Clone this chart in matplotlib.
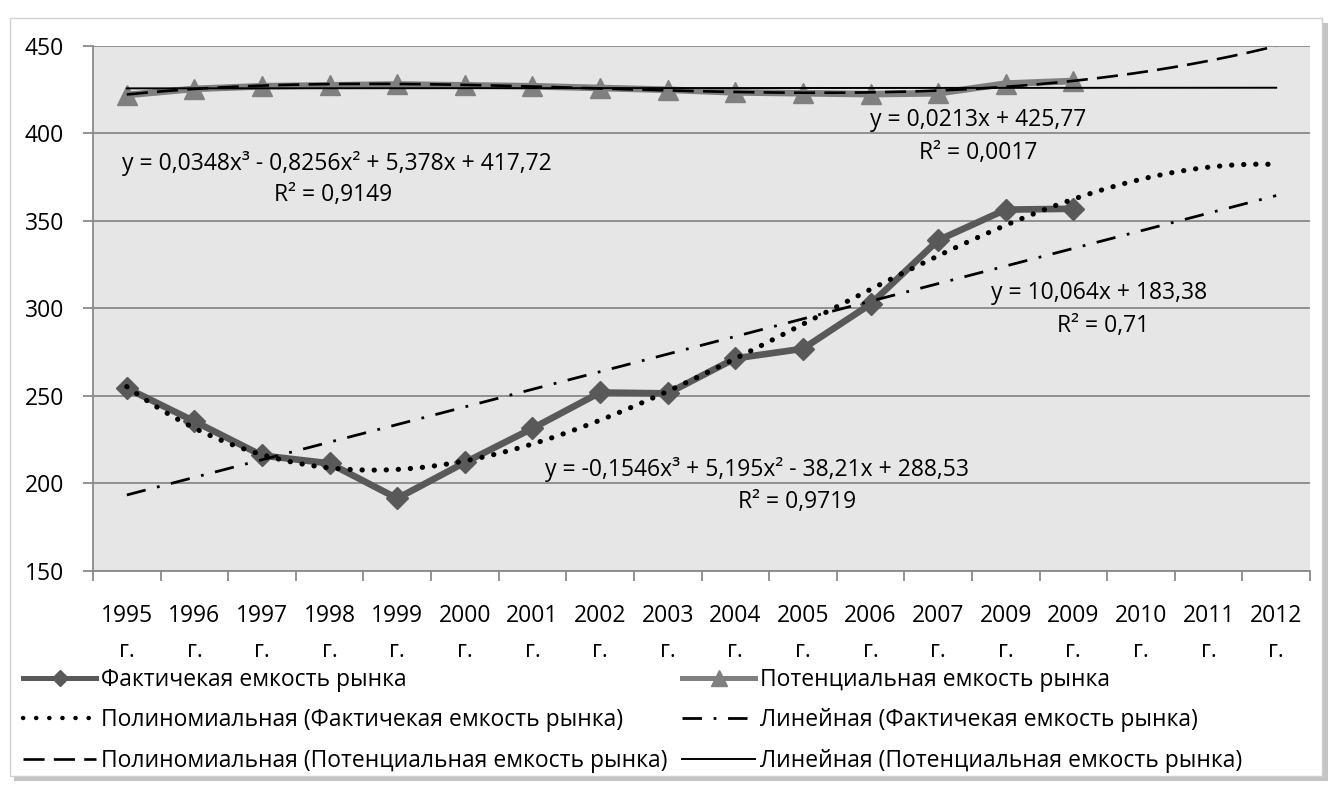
import numpy as np
import matplotlib
matplotlib.use("Agg")
import matplotlib.pyplot as plt
from matplotlib.lines import Line2D
from matplotlib.patches import Rectangle

plt.rcParams['font.family'] = ['Open Sans', 'DejaVu Sans']

# ---------------- data ----------------
years = ["1995", "1996", "1997", "1998", "1999", "2000", "2001", "2002", "2003",
         "2004", "2005", "2006", "2007", "2009", "2009", "2010", "2011", "2012"]
actual = [254.5, 235.5, 216, 211.5, 191.5, 212, 231.5, 252, 251.5,
          271.5, 277, 302.5, 339, 356.5, 357]
potential = [422, 425.5, 427, 427.5, 428, 427.5, 427, 426, 425,
             423.5, 423, 422.5, 423, 428.5, 430]
# trendline coefficients (as printed on chart), x = 1..18
poly_actual_coef = [-0.1546, 5.195, -38.21, 288.53]
lin_actual_coef = [10.064, 183.38]
poly_pot_coef = [0.0348, -0.8256, 5.378, 417.72]
lin_pot_coef = [0.0213, 425.77]

eq_poly_pot = ["y = 0,0348x³ - 0,8256x² + 5,378x + 417,72", "R² = 0,9149"]
eq_lin_pot = ["y = 0,0213x + 425,77", "R² = 0,0017"]
eq_lin_act = ["y = 10,064x + 183,38", "R² = 0,71"]
eq_poly_act = ["y = -0,1546x³ + 5,195x² - 38,21x + 288,53", "R² = 0,9719"]

legend_labels = ["Фактичекая емкость рынка",
                 "Потенциальная емкость рынка",
                 "Полиномиальная (Фактичекая емкость рынка)",
                 "Линейная (Фактичекая емкость рынка)",
                 "Полиномиальная (Потенциальная емкость рынка)",
                 "Линейная (Потенциальная емкость рынка)"]

# ---------------- styles ----------------
C_ACT = "#595959"
C_POT = "#808080"
DOT = (0, (0.05, 2.3))
DASHDOT = (0, (7, 4.2, 1.0, 4.2))
DASH = (0, (8, 3.5))

# ---------------- figure ----------------
W, H = 1336, 787
fig = plt.figure(figsize=(W / 100, H / 100), dpi=100)
fig.patch.set_facecolor("white")

# chart frame with shadow
fig.patches.append(Rectangle((14 / W, 1 - 781 / H), 1314 / W, 758 / H,
                             transform=fig.transFigure, facecolor="#c4c4c4",
                             edgecolor="none", zorder=-2))
fig.patches.append(Rectangle((10 / W, 1 - 776 / H), 1312 / W, 758 / H,
                             transform=fig.transFigure, facecolor="white",
                             edgecolor="#d0d0d0", lw=1.0, zorder=-1))

ax = fig.add_axes([93 / W, 1 - 571 / H, (1310 - 93) / W, (571 - 46) / H])
ax.set_facecolor("#e6e6e6")

FS = 16.5
x_data = np.arange(len(actual))
x_pot = np.arange(len(potential))
xf = np.linspace(1, len(years), 300)
xf_pos = xf - 1

ax.plot(x_data, actual, color=C_ACT, lw=4.8, marker="D", ms=11,
        zorder=3)
ax.plot(x_pot, potential, color=C_POT, lw=4.8, marker="^", ms=14,
        zorder=3)

ax.plot(xf_pos, np.polyval(poly_actual_coef, xf), color="black", lw=3.7,
        linestyle=DOT, dash_capstyle="round", zorder=4)
ax.plot(xf_pos, np.polyval(lin_actual_coef, xf), color="black", lw=2.0,
        linestyle=DASHDOT, zorder=4)
ax.plot(xf_pos, np.polyval(poly_pot_coef, xf), color="black", lw=1.9,
        linestyle=DASH, zorder=4)
ax.plot(xf_pos, np.polyval(lin_pot_coef, xf), color="black", lw=1.4,
        zorder=4)

ax.set_xlim(-0.5, len(years) - 0.5)
ax.set_ylim(150, 450)
ax.set_yticks(np.arange(150, 451, 50))
ax.yaxis.grid(True, color="#8a8a8a", lw=1.3)
ax.set_axisbelow(True)
ax.set_xticks(np.arange(-0.5, len(years), 1.0))
ax.set_xticklabels([])
ax.set_xticks(np.arange(len(years)), minor=True)
ax.set_xticklabels([y + "\nг." for y in years], minor=True, fontsize=FS,
                   linespacing=1.6)
ax.tick_params(axis="x", which="major", length=7, color="#8a8a8a", width=1.3)
ax.tick_params(axis="x", which="minor", length=0, pad=24)
ax.tick_params(axis="y", length=7, color="#8a8a8a", width=1.3, pad=14,
               labelsize=FS)
for s in ["top", "right"]:
    ax.spines[s].set_visible(False)
for s in ["left", "bottom"]:
    ax.spines[s].set_color("#8a8a8a")
    ax.spines[s].set_linewidth(1.3)


def ftext(px, py, s, **kw):
    fig.text(px / W, 1 - py / H, s, fontsize=FS, ha="center", va="center", **kw)


ftext(337, 163, eq_poly_pot[0]); ftext(333, 195, eq_poly_pot[1])
ftext(978, 120, eq_lin_pot[0]); ftext(978, 153, eq_lin_pot[1])
ftext(1099, 293, eq_lin_act[0]); ftext(1103, 326, eq_lin_act[1])
ftext(757, 470, eq_poly_act[0]); ftext(797, 502, eq_poly_act[1])

# legend handles
h_act = Line2D([], [], color=C_ACT, lw=3.6, marker="D", ms=8.5)
h_pot = Line2D([], [], color=C_POT, lw=3.6, marker="^", ms=11)
h_pa = Line2D([], [], color="black", lw=3.2, linestyle=(0, (0.05, 2.9)),
              dash_capstyle="round")
h_la = Line2D([], [], color="black", lw=2.0, linestyle=DASHDOT)
h_pp = Line2D([], [], color="black", lw=1.9, linestyle=DASH)
h_lp = Line2D([], [], color="black", lw=1.4)

kw = dict(frameon=False, fontsize=FS, handlelength=3.2, handletextpad=0.2,
          labelspacing=0.72, numpoints=1, borderpad=0, borderaxespad=0,
          loc="upper left")
leg1 = fig.legend([h_act, h_pa, h_pp], [legend_labels[0], legend_labels[2],
                  legend_labels[4]], bbox_to_anchor=(23 / W, 1 - 668 / H), **kw)
leg2 = fig.legend([h_pot, h_la, h_lp], [legend_labels[1], legend_labels[3],
                  legend_labels[5]], bbox_to_anchor=(682 / W, 1 - 668 / H), **kw)

fig.savefig("out.png", dpi=100, facecolor="white")
